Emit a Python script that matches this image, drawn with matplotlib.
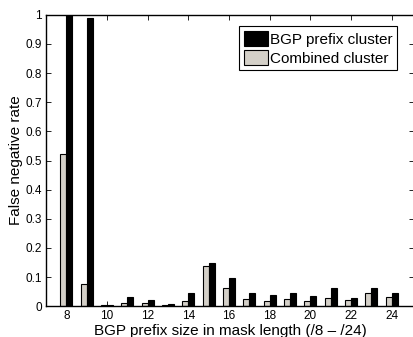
import matplotlib
matplotlib.use("Agg")
import matplotlib.pyplot as plt
import numpy as np

plt.rcParams['font.family'] = ['Liberation Sans', 'DejaVu Sans']

mask_len = [8, 9, 10, 11, 12, 13, 14, 15, 16, 17, 18, 19, 20, 21, 22, 23, 24]
combined = [0.522, 0.076, 0.004, 0.010, 0.010, 0.003, 0.018, 0.139, 0.063, 0.024, 0.018, 0.026, 0.018, 0.029, 0.021, 0.046, 0.032]
bgp_prefix = [1.0, 0.99, 0.005, 0.031, 0.020, 0.009, 0.045, 0.147, 0.097, 0.045, 0.039, 0.047, 0.034, 0.062, 0.028, 0.063, 0.047]
xticks = [8, 10, 12, 14, 16, 18, 20, 22, 24]
yticks = [0, 0.1, 0.2, 0.3, 0.4, 0.5, 0.6, 0.7, 0.8, 0.9, 1]
ytick_labels = ['0', '0.1', '0.2', '0.3', '0.4', '0.5', '0.6', '0.7', '0.8', '0.9', '1']

fig = plt.figure(figsize=(4.13, 3.37), dpi=100)
ax = fig.add_axes([46/413, 1 - 306.3/337, (414.5 - 46)/413, (306.3 - 14.7)/337])

x = np.array(mask_len, dtype=float)
w = 0.3
gray = '#d4d0c8'
ax.bar(x - w/2, combined, width=w, color=gray, edgecolor='black', linewidth=0.8,
       label='Combined cluster', zorder=2)
ax.bar(x + w/2, bgp_prefix, width=w, color='black', edgecolor='black', linewidth=0.8,
       label='BGP prefix cluster', zorder=2)

ax.set_xlim(7, 25.12)
ax.set_ylim(0, 1)
ax.set_xticks(xticks)
ax.set_yticks(yticks)
ax.set_yticklabels(ytick_labels)
ax.tick_params(direction='in', length=3.5, width=0.6, labelsize=8.5,
               top=True, right=True, pad=3)
for s in ax.spines.values():
    s.set_linewidth(1.0)

ax.set_xlabel('BGP prefix size in mask length (/8 – /24)', fontsize=11, labelpad=1)
ax.set_ylabel('False negative rate', fontsize=11, labelpad=2)

h, l = ax.get_legend_handles_labels()
leg = ax.legend(h[::-1], l[::-1], loc='upper left',
                bbox_to_anchor=((239 - 46) / (414.5 - 46), 1 - (26 - 14.7) / (306.3 - 14.7)),
                fontsize=11, frameon=True, fancybox=False, framealpha=1,
                edgecolor='black', borderpad=0.3, handlelength=1.6, handleheight=1.2,
                handletextpad=0.12, labelspacing=0.2, borderaxespad=0.0)
leg.get_frame().set_linewidth(0.8)

fig.savefig('out.png', dpi=100)
